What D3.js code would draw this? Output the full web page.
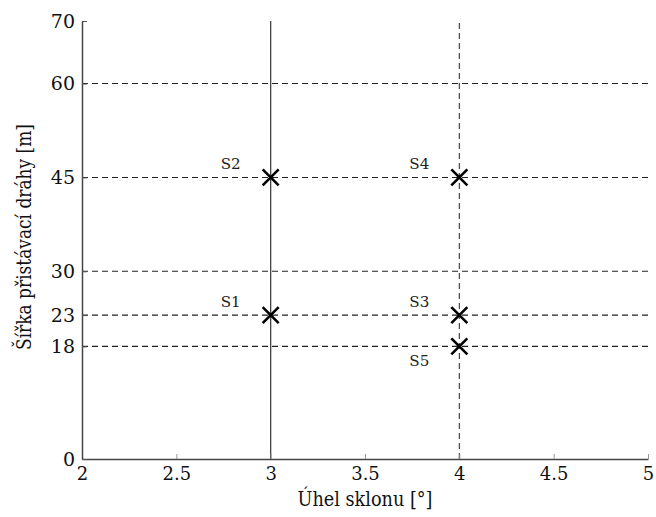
<!DOCTYPE html>
<html>
<head>
<meta charset="utf-8">
<script src="https://cdn.jsdelivr.net/npm/d3@7"></script>
<style>
  body { margin: 0; background: #fff; }
</style>
</head>
<body>
<svg id="chart" width="656" height="517"></svg>
<script>
// data
const xTicks = [2, 2.5, 3, 3.5, 4, 4.5, 5];
const xTickLabels = ["2", "2.5", "3", "3.5", "4", "4.5", "5"];
const yTicks = [0, 18, 23, 30, 45, 60, 70];
const hLines = [18, 23, 30, 45, 60];
const vSolid = [3];
const vDashed = [4];
const pointNames = ["S1", "S2", "S3", "S4", "S5"];
const pointAngle = [3, 3, 4, 4, 4];
const pointWidth = [23, 45, 23, 45, 18];

// only DejaVu Serif resolves as a serif face here
const serif = "DejaVu Serif, serif";

const svg = d3.select("#chart");
const margin = {left: 82, right: 8, top: 21, bottom: 58};
const W = 656, H = 517;

const x = d3.scaleLinear().domain([2, 5]).range([margin.left, W - margin.right]);
const y = d3.scaleLinear().domain([0, 70]).range([H - margin.bottom, margin.top]);

// grid lines
svg.append("g").selectAll("line")
    .data(hLines)
    .enter().append("line")
    .attr("x1", x(2)).attr("x2", x(5))
    .attr("y1", d => y(d)).attr("y2", d => y(d))
    .attr("stroke", "#222").attr("stroke-width", 1.1)
    .attr("stroke-dasharray", "6,4");

svg.append("g").selectAll("line")
    .data(vSolid)
    .enter().append("line")
    .attr("x1", d => x(d)).attr("x2", d => x(d))
    .attr("y1", y(0)).attr("y2", y(70))
    .attr("stroke", "#444").attr("stroke-width", 1.3);

svg.append("g").selectAll("line")
    .data(vDashed)
    .enter().append("line")
    .attr("x1", d => x(d)).attr("x2", d => x(d))
    .attr("y1", y(0)).attr("y2", y(70))
    .attr("stroke", "#333").attr("stroke-width", 1.1)
    .attr("stroke-dasharray", "6,4");

// axes
const xAxis = d3.axisBottom(x).tickValues(xTicks)
    .tickFormat((d, i) => xTickLabels[i]).tickSizeInner(-5).tickSizeOuter(0).tickPadding(8);
const gx = svg.append("g").attr("transform", `translate(0,${y(0)})`).call(xAxis)
    .attr("font-family", null);
gx.select(".domain").attr("stroke", "#444").attr("stroke-width", 1.5);
gx.selectAll(".tick line").attr("stroke", "#999");
gx.selectAll("text").style("font-family", serif).style("font-size", "18px").attr("fill", "#111");

const yAxis = d3.axisLeft(y).tickValues(yTicks).tickSizeInner(-5).tickSizeOuter(0).tickPadding(7);
const gy = svg.append("g").attr("transform", `translate(${x(2)},0)`).call(yAxis)
    .attr("font-family", null);
gy.select(".domain").attr("stroke", "#444").attr("stroke-width", 1.5);
gy.selectAll(".tick line").attr("stroke", "#555");
gy.selectAll("text").style("font-family", serif).style("font-size", "19px").attr("fill", "#111");

// markers
const pts = pointNames.map((n, i) => ({name: n, a: pointAngle[i], w: pointWidth[i]}));
const s = 8;
const mk = svg.append("g")
    .selectAll("g").data(pts).enter().append("g")
    .attr("transform", d => `translate(${x(d.a)},${y(d.w)})`);
mk.append("path")
    .attr("d", `M${-s},${-s}L${s},${s}M${-s},${s}L${s},${-s}`)
    .attr("stroke", "#000").attr("stroke-width", 2.6).attr("fill", "none");
mk.append("text")
    .attr("x", -30)
    .attr("y", d => d.name === "S5" ? 20 : -8)
    .attr("text-anchor", "end")
    .style("font-family", serif)
    .style("font-size", "15px")
    .attr("textLength", 20)
    .attr("lengthAdjust", "spacingAndGlyphs")
    .attr("fill", "#222")
    .text(d => d.name);

// axis titles
svg.append("text")
    .attr("x", (x(2) + x(5)) / 2).attr("y", 506)
    .attr("text-anchor", "middle")
    .style("font-family", serif)
    .style("font-size", "20px")
    .attr("textLength", 135)
    .attr("lengthAdjust", "spacingAndGlyphs")
    .attr("fill", "#111")
    .text("Úhel sklonu [°]");

svg.append("text")
    .attr("transform", `translate(31,237) rotate(-90)`)
    .attr("text-anchor", "middle")
    .style("font-family", serif)
    .style("font-size", "20px")
    .attr("textLength", 226)
    .attr("lengthAdjust", "spacingAndGlyphs")
    .attr("fill", "#111")
    .text("Šířka přistávací dráhy [m]");
</script>
</body>
</html>
